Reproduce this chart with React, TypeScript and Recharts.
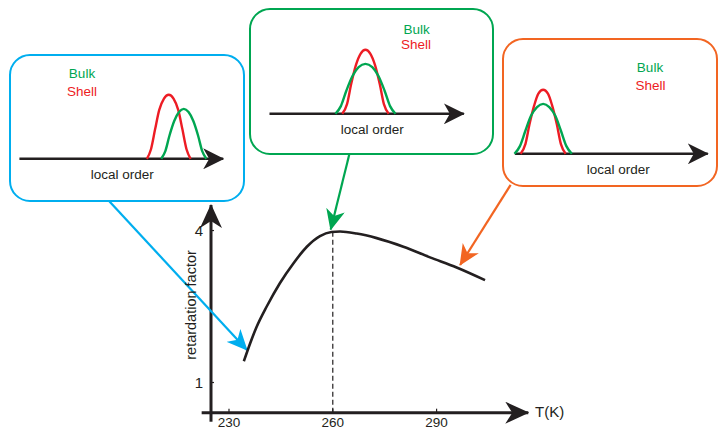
import { LineChart, Line, XAxis, YAxis, ReferenceLine } from "recharts"

const INK = "#231f20"
const BLUE = "#00aeef"
const GREEN = "#00a651"
const ORANGE = "#f26522"
const RED = "#ed1c24"
const FONT = '"Liberation Sans", Arial, Helvetica, sans-serif'

// main curve: retardation factor against T(K)
const temps = [234.3, 236.1, 238.0, 240.9, 244.7, 248.6, 252.5, 256.3, 259.6, 262.1, 266.9, 272.7, 280.4, 288.1, 295.8, 304.0]
const retardation = [1.42, 1.77, 2.1, 2.5, 2.96, 3.35, 3.68, 3.89, 3.97, 3.98, 3.94, 3.85, 3.68, 3.47, 3.27, 3.02]
const tempTicks = [230, 260, 290]
const factorTicks = [1, 4]
const peakTemp = 260
const peakFactor = 3.97

// insets: distributions over "local order" (ticks at 1, 2, 3)
const orderTicks = [1, 2, 3]
const shellHeights = [0, 0.15, 0.46, 0.76, 0.94, 1.0, 0.94, 0.76, 0.46, 0.15, 0]
const bulkHeights = [0, 0.12, 0.36, 0.59, 0.73, 0.78, 0.73, 0.59, 0.36, 0.12, 0]
const lowShellX = [2.46, 2.52, 2.58, 2.64, 2.71, 2.78, 2.85, 2.92, 2.98, 3.04, 3.1]
const lowBulkX = [2.67, 2.73, 2.79, 2.86, 2.93, 3.0, 3.07, 3.14, 3.21, 3.27, 3.33]
const midShellX = [1.66, 1.73, 1.79, 1.86, 1.93, 2.0, 2.07, 2.14, 2.21, 2.27, 2.34]
const midBulkX = [1.56, 1.64, 1.72, 1.81, 1.9, 2.0, 2.1, 2.19, 2.28, 2.36, 2.44]
const highShellX = [0.67, 0.74, 0.8, 0.87, 0.93, 1.0, 1.07, 1.13, 1.2, 1.26, 1.33]
const highBulkX = [0.58, 0.66, 0.74, 0.82, 0.91, 1.0, 1.09, 1.18, 1.26, 1.34, 1.42]

// callout arrows (main chart units): box edge -> point on the curve
const blueCallout = [{ x: 195.4, y: 4.58 }, { x: 235.2, y: 1.64 }]
const greenCallout = [{ x: 264.8, y: 5.51 }, { x: 259.4, y: 4.02 }]
const orangeCallout = [{ x: 311.4, y: 4.9 }, { x: 296.8, y: 3.32 }]

const curveData = temps.map((t, i) => ({ t, r: retardation[i] }))

function Arrowhead({ id, color, len, half, notch }: any) {
  return (
    <marker id={id} viewBox={`0 0 ${len} ${half * 2}`} markerWidth={len} markerHeight={half * 2}
      refX={len - 1} refY={half} orient="auto" markerUnits="userSpaceOnUse">
      <path d={`M0,0 L${len},${half} L0,${half * 2} L${notch},${half} Z`} fill={color} />
    </marker>
  )
}

function Inset({ id, color, box, left, top, axisEnds, shellX, bulkX, bulkAt, shellAt }: any) {
  const shell = shellX.map((x: number, i: number) => ({ x, y: shellHeights[i] }))
  const bulk = bulkX.map((x: number, i: number) => ({ x, y: bulkHeights[i] }))
  const txt = { position: "absolute" as const, fontSize: 13.5, lineHeight: 1, whiteSpace: "nowrap" as const, transform: "translate(-50%, -50%)" }
  return (
    <>
      <div style={{ position: "absolute", ...box, border: `2.5px solid ${color}`, borderRadius: 21, boxSizing: "border-box" }} />
      <div style={{ position: "absolute", left, top }}>
        <LineChart width={218.6} height={106.8} margin={{ top: 0, right: 0, bottom: 0, left: 0 }}>
          <defs>
            <Arrowhead id={id} color={INK} len={21} half={10.5} notch={6} />
          </defs>
          <XAxis dataKey="x" type="number" domain={[0.5, 3.7]} ticks={orderTicks} interval={0}
            tick={false} tickLine={{ stroke: INK, strokeWidth: 1.2 }} tickSize={-4} axisLine={false} height={30}
            label={{ value: "local order", position: "center", fill: INK, fontSize: 13.5, fontFamily: FONT }} />
          <YAxis hide type="number" domain={[0, 1.2]} />
          <ReferenceLine segment={[{ x: axisEnds[0], y: 0 }, { x: axisEnds[1], y: 0 }]} stroke={INK}
            strokeWidth={2.6} ifOverflow="visible" markerEnd={`url(#${id})`} />
          <Line data={shell} dataKey="y" type="monotone" stroke={RED} strokeWidth={2.4} dot={false} isAnimationActive={false} />
          <Line data={bulk} dataKey="y" type="monotone" stroke={GREEN} strokeWidth={2.4} dot={false} isAnimationActive={false} />
        </LineChart>
      </div>
      <div style={{ ...txt, left: bulkAt[0], top: bulkAt[1], color: GREEN }}>Bulk</div>
      <div style={{ ...txt, left: shellAt[0], top: shellAt[1], color: RED }}>Shell</div>
    </>
  )
}

export default function App() {
  return (
    <div style={{ position: "absolute", left: 0, top: 0, width: 721, height: 430, overflow: "hidden", fontFamily: FONT, background: "#fff" }}>
      <div style={{ position: "absolute", left: 0, top: 0 }}>
        <LineChart width={721} height={430} data={curveData} margin={{ top: 205.2, right: 191, bottom: 0, left: 0 }}>
          <defs>
            <Arrowhead id="ah-axis" color={INK} len={24} half={11} notch={7} />
            <Arrowhead id="ah-blue" color={BLUE} len={21} half={9.5} notch={6} />
            <Arrowhead id="ah-green" color={GREEN} len={21} half={9.5} notch={6} />
            <Arrowhead id="ah-orange" color={ORANGE} len={21} half={9.5} notch={6} />
          </defs>
          <XAxis dataKey="t" type="number" domain={[224.8, 317]} ticks={tempTicks} interval={0}
            height={17.3} axisLine={false} tickSize={-4} tickMargin={8.3}
            tickLine={{ stroke: INK, strokeWidth: 1.2 }}
            tick={{ fill: INK, fontSize: 13.5, fontFamily: FONT }}
            label={{
              content: ({ viewBox }: any) => (
                <text x={viewBox.x + viewBox.width + 5} y={viewBox.y - 1} dominantBaseline="central"
                  fill={INK} fontSize={15} fontFamily={FONT}>T(K)</text>
              ),
            }} />
          <YAxis type="number" domain={[0.404, 4.5]} ticks={factorTicks} interval={0}
            width={211} axisLine={false} tickSize={-3} tickMargin={11}
            tickLine={{ stroke: INK, strokeWidth: 1.2 }}
            tick={{ fill: INK, fontSize: 15, fontFamily: FONT }}
            label={{
              content: ({ viewBox }: any) => {
                const cx = viewBox.x + viewBox.width - 19.5
                const cy = viewBox.y + viewBox.height / 2 - 4
                return (
                  <text x={cx} y={cy} transform={`rotate(-90, ${cx}, ${cy})`} textAnchor="middle"
                    dominantBaseline="central" fill={INK} fontSize={14.5} fontFamily={FONT}>retardation factor</text>
                )
              },
            }} />
          <ReferenceLine segment={[{ x: peakTemp, y: 0.404 }, { x: peakTemp, y: peakFactor }]} stroke={INK}
            strokeWidth={1.2} strokeDasharray="5 3" ifOverflow="visible" />
          <ReferenceLine segment={[{ x: 222.1, y: 0.404 }, { x: 316.5, y: 0.404 }]} stroke={INK}
            strokeWidth={3} ifOverflow="visible" markerEnd="url(#ah-axis)" />
          <ReferenceLine segment={[{ x: 224.8, y: 0.226 }, { x: 224.8, y: 4.503 }]} stroke={INK}
            strokeWidth={3} ifOverflow="visible" markerEnd="url(#ah-axis)" />
          <ReferenceLine segment={blueCallout} stroke={BLUE} strokeWidth={2.2} ifOverflow="visible" markerEnd="url(#ah-blue)" />
          <ReferenceLine segment={greenCallout} stroke={GREEN} strokeWidth={2.2} ifOverflow="visible" markerEnd="url(#ah-green)" />
          <ReferenceLine segment={orangeCallout} stroke={ORANGE} strokeWidth={2.2} ifOverflow="visible" markerEnd="url(#ah-orange)" />
          <Line dataKey="r" type="monotone" stroke={INK} strokeWidth={2.6} dot={false} isAnimationActive={false} />
        </LineChart>
      </div>

      <Inset id="ah-in-blue" color={BLUE} box={{ left: 9, top: 54, width: 236, height: 148 }}
        left={12.55} top={81.5} axisEnds={[0.594, 3.577]} shellX={lowShellX} bulkX={lowBulkX}
        bulkAt={[82, 74.3]} shellAt={[82, 92.3]} />
      <Inset id="ah-in-green" color={GREEN} box={{ left: 249, top: 8, width: 245, height: 147 }}
        left={262.5} top={36.5} axisEnds={[0.595, 3.44]} shellX={midShellX} bulkX={midBulkX}
        bulkAt={[416.7, 30]} shellAt={[416, 45]} />
      <Inset id="ah-in-orange" color={ORANGE} box={{ left: 502, top: 38, width: 216, height: 149 }}
        left={509.2} top={76.5} axisEnds={[0.585, 3.41]} shellX={highShellX} bulkX={highBulkX}
        bulkAt={[650, 68.3]} shellAt={[650.5, 85.7]} />
    </div>
  )
}
